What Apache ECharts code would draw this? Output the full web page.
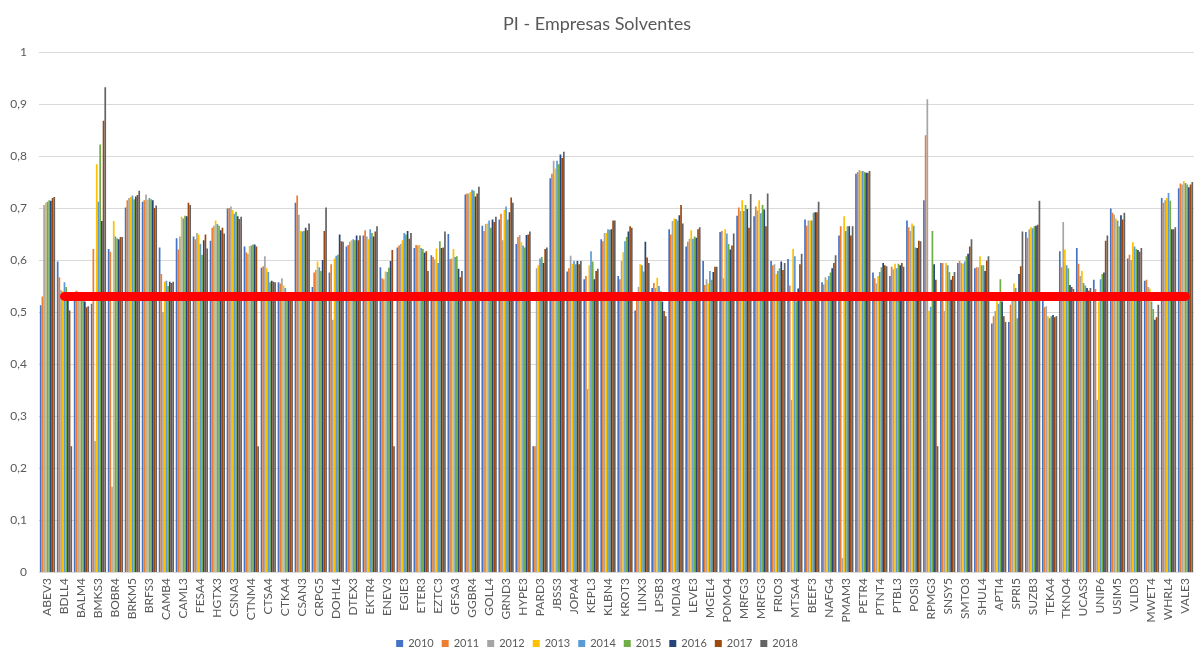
<!DOCTYPE html>
<html>
<head>
<meta charset="utf-8">
<script src="https://cdn.jsdelivr.net/npm/echarts@6/dist/echarts.min.js"></script>
<style>
  html, body { margin: 0; padding: 0; background: #fff; }
  #chart { width: 1194px; height: 648px; }
</style>
</head>
<body>
<div id="chart"></div>
<script>
const categories = [
  "ABEV3", "BDLL4", "BALM4", "BMKS3", "BOBR4", "BRKM5", "BRFS3", "CAMB4", "CAML3", "FESA4",
  "HGTX3", "CSNA3", "CTNM4", "CTSA4", "CTKA4", "CSAN3", "CRPG5", "DOHL4", "DTEX3", "EKTR4",
  "ENEV3", "EGIE3", "ETER3", "EZTC3", "GFSA3", "GGBR4", "GOLL4", "GRND3", "HYPE3", "PARD3",
  "JBSS3", "JOPA4", "KEPL3", "KLBN4", "KROT3", "LINX3", "LPSB3", "MDIA3", "LEVE3", "MGEL4",
  "POMO4", "MRFG3", "MRFG3", "FRIO3", "MTSA4", "BEEF3", "NAFG4", "PMAM3", "PETR4", "PTNT4",
  "PTBL3", "POSI3", "RPMG3", "SNSY5", "SMTO3", "SHUL4", "APTI4", "SPRI5", "SUZB3", "TEKA4",
  "TKNO4", "UCAS3", "UNIP6", "USIM5", "VLID3", "MWET4", "WHRL4", "VALE3"
];

const years = ["2010", "2011", "2012", "2013", "2014", "2015", "2016", "2017", "2018"];

const y2010 = [
  .513, .597, .537, .516, .621, .701, .712, .624, .642, .645,
  .637, .699, .626, .585, .557, .710, .548, .576, .626, .647,
  .586, .624, .623, .609, .650, .726, .666, .678, .631, .242,
  .757, .578, .563, .640, .569, .503, .546, .659, .626, .598,
  .654, .685, .684, .598, .602, .678, .557, .647, .766, .576,
  .569, .676, .715, .594, .594, .584, .478, .481, .654, .534,
  .617, .623, .562, .699, .603, .560, .719, .738
];
const y2011 = [
  .530, .567, .541, .621, .616, .715, .715, .573, .620, .640,
  .662, .700, .615, .588, .555, .724, .576, .592, .629, .657,
  .565, .628, .629, .606, .602, .728, .656, .689, .644, .242,
  .766, .584, .569, .636, .563, .527, .556, .649, .635, .552,
  .656, .701, .703, .590, .551, .666, .553, .665, .769, .565,
  .587, .663, .840, .594, .598, .586, .492, .514, .643, .509,
  .586, .593, .544, .691, .610, .562, .710, .747
];
const y2012 = [
  .706, .542, .539, .252, .164, .719, .726, .500, .645, .652,
  .666, .703, .612, .607, .565, .687, .581, .485, .635, .645,
  .563, .631, .628, .601, .603, .728, .669, .638, .648, .584,
  .791, .608, .352, .652, .598, .548, .546, .675, .641, .563,
  .565, .694, .695, .592, .331, .676, .567, .027, .773, .555,
  .582, .656, .909, .502, .594, .586, .502, .525, .659, .511,
  .673, .569, .331, .687, .600, .548, .715, .745
];
const y2013 = [
  .710, .540, .534, .784, .675, .721, .716, .558, .683, .649,
  .676, .696, .627, .584, .551, .656, .597, .603, .638, .640,
  .578, .638, .629, .622, .621, .731, .670, .696, .634, .590,
  .776, .593, .590, .652, .615, .592, .566, .680, .657, .555,
  .659, .715, .715, .573, .621, .676, .562, .684, .771, .569,
  .593, .670, .502, .594, .593, .607, .525, .555, .663, .492,
  .620, .579, .520, .680, .634, .545, .719, .752
];
const y2014 = [
  .712, .557, .530, .712, .645, .724, .719, .560, .680, .631,
  .669, .689, .628, .577, .546, .655, .586, .608, .640, .659,
  .577, .652, .623, .594, .606, .735, .676, .703, .628, .603,
  .791, .598, .617, .659, .636, .590, .550, .679, .641, .579,
  .651, .694, .690, .579, .607, .676, .569, .656, .771, .577,
  .584, .666, .510, .590, .597, .590, .516, .546, .661, .488,
  .590, .556, .563, .676, .626, .520, .729, .748
];
const y2015 = [
  .715, .548, .527, .822, .642, .717, .717, .550, .685, .610,
  .666, .693, .630, .557, .537, .656, .579, .610, .638, .652,
  .585, .649, .621, .636, .607, .733, .662, .678, .624, .606,
  .784, .592, .597, .658, .644, .578, .540, .676, .645, .562,
  .631, .706, .706, .584, .520, .691, .576, .665, .769, .586,
  .593, .624, .656, .577, .607, .590, .563, .488, .665, .492,
  .584, .551, .573, .665, .621, .506, .714, .745
];
const y2016 = [
  .714, .523, .520, .675, .640, .722, .715, .558, .684, .638,
  .657, .684, .630, .560, .536, .662, .600, .649, .647, .645,
  .598, .656, .614, .623, .583, .722, .678, .692, .648, .594,
  .803, .598, .563, .659, .655, .635, .520, .686, .643, .577,
  .620, .698, .697, .597, .545, .692, .584, .665, .768, .594,
  .590, .623, .592, .562, .612, .579, .520, .573, .666, .494,
  .552, .546, .576, .686, .619, .485, .659, .740
];
const y2017 = [
  .719, .503, .509, .868, .644, .725, .700, .556, .710, .649,
  .662, .679, .626, .558, .536, .657, .656, .636, .638, .655,
  .619, .641, .617, .624, .567, .728, .673, .720, .649, .621,
  .796, .592, .579, .676, .665, .605, .502, .706, .659, .587,
  .628, .662, .665, .581, .592, .692, .594, .647, .768, .590,
  .594, .637, .562, .569, .626, .599, .492, .588, .668, .490,
  .548, .541, .637, .678, .616, .490, .659, .745
];
const y2018 = [
  .721, .242, .511, .932, .644, .733, .705, .558, .706, .622,
  .651, .683, .242, .557, .536, .670, .701, .635, .647, .665,
  .242, .652, .579, .655, .579, .741, .683, .710, .655, .624,
  .808, .598, .583, .676, .662, .594, .492, .670, .663, .587,
  .651, .727, .728, .594, .612, .712, .609, .665, .771, .588,
  .587, .636, .242, .577, .640, .607, .481, .655, .714, .492,
  .544, .546, .647, .691, .623, .514, .663, .750
];

const yearValues = [y2010, y2011, y2012, y2013, y2014, y2015, y2016, y2017, y2018];

// cores padrão do Excel (Office)
const colors = ["#4472C4", "#ED7D31", "#A5A5A5", "#FFC000", "#5B9BD5", "#70AD47", "#264478", "#9E480E", "#636363"];

// linha de corte (começa na segunda empresa, como no gráfico original)
const cutoff = 0.53;
const cutoffLine = categories.map((c, i) => (i === 0 ? null : cutoff));

const font = "Lato, 'Noto Sans', sans-serif";
const textColor = "#595959";

const series = years.map((y, i) => ({
  name: y,
  type: "bar",
  data: yearValues[i],
  barGap: "0%",
  barCategoryGap: "10%",
  itemStyle: { color: colors[i] },
  emphasis: { disabled: true },
}));

series.push({
  name: "corte",
  type: "line",
  data: cutoffLine,
  showSymbol: false,
  silent: true,
  z: 5,
  lineStyle: { color: "#FF0000", width: 9, cap: "round" },
});

const chart = echarts.init(document.getElementById("chart"));
chart.setOption({
  backgroundColor: "#ffffff",
  animation: false,
  color: colors,
  title: {
    text: "PI - Empresas Solventes",
    left: "center",
    top: 10,
    textStyle: { fontFamily: font, fontSize: 18, fontWeight: "normal", color: textColor },
  },
  legend: {
    data: years,
    bottom: -1,
    left: "center",
    padding: [0, 5, 0, 5],
    icon: "rect",
    itemWidth: 7,
    itemHeight: 7,
    itemGap: 8,
    textStyle: { fontFamily: font, fontSize: 11, color: textColor },
  },
  grid: { left: 39, right: -5, top: 52, bottom: 76, containLabel: false },
  xAxis: {
    type: "category",
    data: categories,
    axisTick: { show: false },
    axisLine: { lineStyle: { color: "#D9D9D9" } },
    axisLabel: {
      interval: 0,
      rotate: 90,
      margin: 6,
      fontFamily: font,
      fontSize: 12,
      color: textColor,
    },
  },
  yAxis: {
    type: "value",
    min: 0,
    max: 1,
    interval: 0.1,
    axisLine: { show: false },
    axisTick: { show: false },
    splitLine: { lineStyle: { color: "#D9D9D9" } },
    axisLabel: {
      margin: 12,
      fontFamily: font,
      fontSize: 12,
      color: textColor,
      formatter: (v) => (v === 0 || v === 1 ? String(v) : v.toFixed(1).replace(".", ",")),
    },
  },
  series: series,
});
</script>
</body>
</html>
